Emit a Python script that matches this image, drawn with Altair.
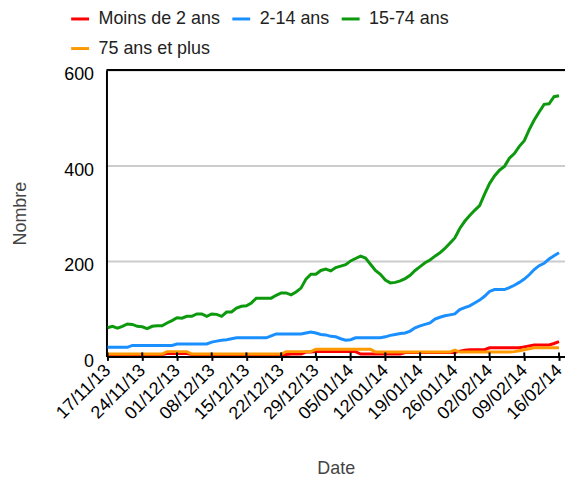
import altair as alt
import pandas as pd

# ---- data -------------------------------------------------------------
dates = [d.strftime("%Y-%m-%dT00:00:00")
         for d in pd.date_range("2013-11-17", "2014-02-16", freq="D")]

series_names = ["Moins de 2 ans", "2-14 ans", "15-74 ans", "75 ans et plus"]
series_colors = ["#ff0000", "#1a8fff", "#0d990d", "#ff9900"]

moins_2 = ([4] * 12 + [6] * 5 + [4] * 20 + [5] * 3 + [9] * 2 + [10] * 9 + [5] * 9
           + [8] * 11 + [11, 13] + [14] * 4 + [18] * 7 + [20, 22] + [24] * 4 + [27, 31])

ans_2_14 = ([19] * 5 + [23] * 9 + [26] * 7 + [30, 32, 34, 35, 37] + [39] * 7 + [43]
            + [47] * 6 + [49, 51, 49, 46, 45, 42, 41, 37, 34, 35, 39] + [39] * 5
            + [41, 44, 46, 48, 49, 53, 60, 64, 67, 70, 78, 82, 85, 87, 89, 98, 102, 106,
               112, 118, 126, 136, 140, 140, 140, 144, 149, 155, 162, 171, 182, 190,
               195, 204, 211, 217])

ans_15_74 = [60, 63, 59, 63, 68, 67, 63, 62, 58, 63,
             64, 64, 70, 75, 81, 80, 84, 84, 89, 89,
             84, 89, 88, 84, 93, 93, 101, 105, 106, 112,
             122, 122, 122, 122, 128, 133, 133, 129, 135, 143,
             162, 172, 172, 180, 183, 179, 186, 189, 192, 200,
             205, 210, 206, 193, 180, 172, 160, 154, 155, 158,
             163, 170, 180, 188, 196, 202, 210, 217, 226, 237,
             248, 268, 283, 295, 306, 316, 340, 362, 378, 390,
             398, 415, 425, 440, 452, 475, 495, 512, 528, 529,
             544, 546]

ans_75_plus = ([5] * 12 + [10] * 5 + [5] * 19 + [10] * 6 + [15] * 12 + [9] * 16 + [13]
               + [9] * 11 + [10, 12, 14, 16] + [18] * 6)

y_ticks = [0, 200, 400, 600]
tick_dates = dates[::7]

rows = []
for name, vals in zip(series_names, [moins_2, ans_2_14, ans_15_74, ans_75_plus]):
    for d, v in zip(dates, vals):
        rows.append({"Date": d, "Nombre": v, "Serie": name})
df = pd.DataFrame(rows)

FONT = "Liberation Sans"


def dt(s):
    y, m, d = s[:10].split("-")
    return alt.DateTime(year=int(y), month=int(m), date=int(d))


x_axis = alt.Axis(
    values=[dt(s) for s in tick_dates],
    format="%d/%m/%y",
    labelAngle=-45,
    labelAlign="right",
    labelBaseline="middle",
    labelPadding=7,
    labelOverlap=False,
    labelFlush=False,
    labelFontSize=18,
    labelFont=FONT,
    labelColor="#000000",
    domainColor="#000000",
    domainWidth=2,
    tickColor="#000000",
    tickWidth=2,
    tickSize=4,
    grid=False,
    titleFontSize=18,
    titleFont=FONT,
    titleFontWeight="normal",
    titleColor="#444444",
    titleY=113,
    titleBaseline="middle",
)

x_scale = alt.Scale(domain=[alt.DateTime(year=2013, month=11, date=16, hours=19),
                            alt.DateTime(year=2014, month=2, date=17, hours=5)])

x_enc = alt.X("Date:T", title="Date", scale=x_scale, axis=x_axis)

y_enc = alt.Y(
    "Nombre:Q",
    title="Nombre",
    scale=alt.Scale(domain=[0, 600], nice=False),
    axis=alt.Axis(
        values=y_ticks,
        ticks=False,
        labelFontSize=18,
        labelFont=FONT,
        labelColor="#000000",
        labelPadding=13,
        labelOffset=5,
        domainColor="#000000",
        domainWidth=2,
        grid=True,
        gridColor="#cccccc",
        gridWidth=2,
        titleFontSize=18,
        titleFont=FONT,
        titleFontWeight="normal",
        titleColor="#444444",
        titleX=-86,
        titleBaseline="middle",
    ),
)

color_enc = alt.Color(
    "Serie:N",
    scale=alt.Scale(domain=series_names, range=series_colors),
    legend=alt.Legend(
        orient="none",
        legendX=-37,
        legendY=-62,
        direction="horizontal",
        columns=3,
        title=None,
        symbolType="stroke",
        symbolSize=324,
        symbolStrokeWidth=3,
        labelFontSize=18,
        labelFont=FONT,
        labelColor="#222222",
        labelOffset=8,
        columnPadding=5,
        rowPadding=10,
        padding=0,
    ),
)

base = alt.Chart(df).encode(x=x_enc, y=y_enc, color=color_enc)

layers = [
    base.transform_filter(alt.datum.Serie == name).mark_line(strokeWidth=3)
    for name in series_names
]

top_rule = alt.Chart(pd.DataFrame({"Nombre": [600]})).mark_rule(
    color="#000000", strokeWidth=2
).encode(y=y_enc)

up_ticks = alt.Chart(pd.DataFrame({"Date": tick_dates})).mark_rule(
    color="#000000", strokeWidth=2
).encode(x=x_enc, y=alt.value(284), y2=alt.value(288))

chart = alt.layer(top_rule, *layers, up_ticks).properties(
    width=461,
    height=288,
    autosize=alt.AutoSizeParams(type="none"),
    padding={"left": 99, "top": 61, "right": 0, "bottom": 125},
).configure_view(stroke=None).configure_axisX(labelOverlap=False, labelFlush=False)

chart.save("out.html", embed_options={"renderer": "svg", "actions": False})
